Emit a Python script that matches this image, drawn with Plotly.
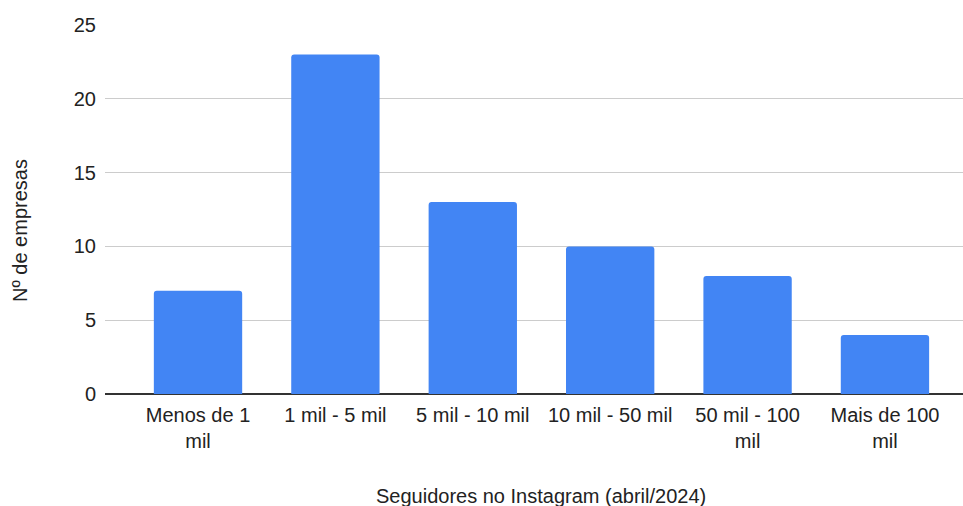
import plotly.graph_objects as go

# Companies by Instagram follower range (April 2024)
categorias = ["Menos de 1 mil", "1 mil - 5 mil", "5 mil - 10 mil",
              "10 mil - 50 mil", "50 mil - 100 mil", "Mais de 100 mil"]
rotulos = ["Menos de 1<br>mil", "1 mil - 5 mil", "5 mil - 10 mil",
           "10 mil - 50 mil", "50 mil - 100<br>mil", "Mais de 100<br>mil"]
empresas = [7, 23, 13, 10, 8, 4]
y_ticks = [0, 5, 10, 15, 20, 25]

FONT = "Liberation Sans, Arial, sans-serif"
TXT = "#222222"
SIZE = 20

fig = go.Figure(
    go.Bar(
        x=categorias,
        y=empresas,
        marker=dict(color="#4285F4", line=dict(width=0)),
        width=0.643,
    )
)

MARGIN_L, MARGIN_R, MARGIN_T, MARGIN_B = 105, 0, 25, 112

fig.update_layout(
    width=963,
    height=506,
    margin=dict(l=MARGIN_L, r=MARGIN_R, t=MARGIN_T, b=MARGIN_B, pad=0),
    paper_bgcolor="white",
    plot_bgcolor="white",
    showlegend=False,
    barcornerradius=3,
    font=dict(family=FONT, size=SIZE, color=TXT),
    xaxis=dict(
        type="category",
        categoryorder="array",
        categoryarray=categorias,
        tickvals=categorias,
        ticktext=rotulos,
        range=[-0.677, 5.568],
        showgrid=False,
        showline=False,
        ticks="",
        ticklabelstandoff=7,
        tickfont=dict(family=FONT, size=SIZE, color=TXT),
        zeroline=False,
    ),
    yaxis=dict(
        range=[0, 25],
        tickvals=y_ticks,
        showgrid=True,
        gridcolor="#cccccc",
        gridwidth=1,
        zeroline=True,
        zerolinecolor="#333333",
        zerolinewidth=1.5,
        ticks="",
        ticklabelstandoff=8,
        tickfont=dict(family=FONT, size=SIZE, color=TXT),
    ),
)

# axis titles, positioned in pixels relative to the plot area
plot_h = 506 - MARGIN_T - MARGIN_B
plot_w = 963 - MARGIN_L - MARGIN_R
base_y = 506 - MARGIN_B
fig.add_annotation(
    text="Seguidores no Instagram (abril/2024)",
    x=2.5, xref="x",
    y=-(496 - base_y) / plot_h, yref="paper", yanchor="middle",
    showarrow=False,
    font=dict(family=FONT, size=SIZE, color=TXT),
)
fig.add_annotation(
    text="Nº de empresas",
    textangle=-90,
    x=(20 - MARGIN_L) / plot_w, xref="paper", xanchor="center",
    y=(base_y - 231) / plot_h, yref="paper", yanchor="middle",
    showarrow=False,
    font=dict(family=FONT, size=SIZE, color=TXT),
)

fig.write_html("out.html")
